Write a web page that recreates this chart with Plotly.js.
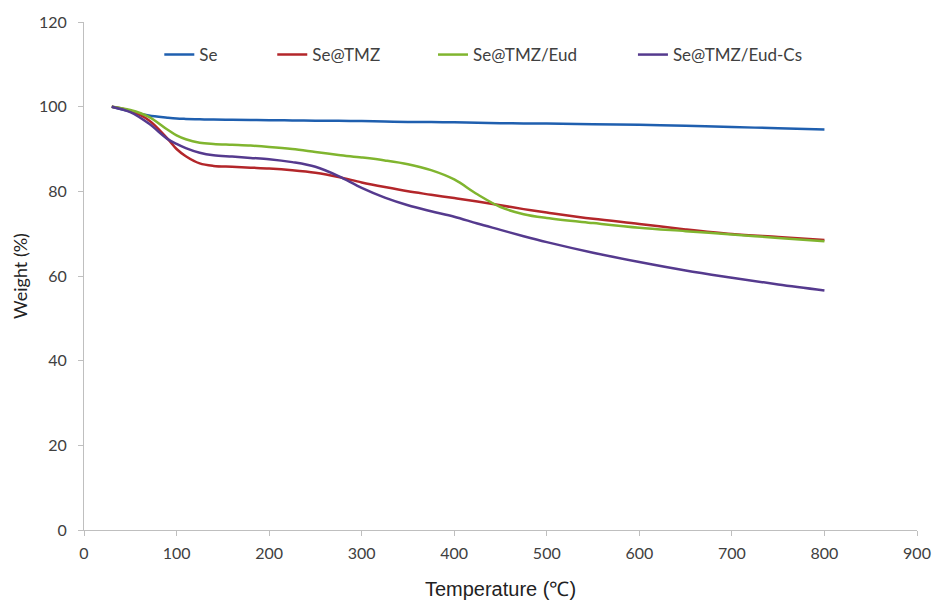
<!DOCTYPE html>
<html>
<head>
<meta charset="utf-8">
<script src="https://cdn.plot.ly/plotly-3.0.1.min.js"></script>
<style>html,body{margin:0;padding:0;background:#fff;}#chart{width:934px;height:605px;}</style>
</head>
<body>
<div id="chart"></div>
<script>
var temperature = [30,50,70,90,100,110,125,140,160,180,200,225,250,275,300,325,350,375,400,425,450,475,500,550,600,650,700,750,800];
var seriesNames = ["Se","Se@TMZ","Se@TMZ/Eud","Se@TMZ/Eud-Cs"];
var weightSe = [100,98.9,97.9,97.4,97.2,97.1,97.0,96.95,96.9,96.85,96.8,96.75,96.7,96.65,96.6,96.5,96.4,96.35,96.3,96.2,96.1,96.05,96.0,95.85,95.7,95.5,95.2,94.9,94.6];
var weightSeTMZ = [100,99.0,96.8,92.5,90.0,88.3,86.6,86.0,85.8,85.6,85.4,85.0,84.4,83.4,82.1,81.0,80.0,79.2,78.4,77.6,76.7,75.8,75.0,73.5,72.3,71.0,69.9,69.2,68.5];
var weightSeTMZEud = [100,99.2,97.6,94.6,93.2,92.3,91.5,91.2,91.0,90.8,90.5,90.0,89.3,88.6,88.0,87.3,86.4,85.0,82.8,79.3,76.3,74.6,73.7,72.5,71.4,70.6,69.8,69.0,68.2];
var weightSeTMZEudCs = [100,98.7,96.0,92.4,91.2,90.2,89.1,88.5,88.2,87.9,87.6,86.9,85.8,83.6,80.8,78.5,76.7,75.3,74.0,72.4,70.9,69.4,68.0,65.5,63.3,61.3,59.6,58.0,56.6];
var xTicks = [0,100,200,300,400,500,600,700,800,900];
var yTicks = [0,20,40,60,80,100,120];

var colors = ["#1F5FAF","#B3262A","#80B52F","#553A8E"];
var legendIds = ["legend","legend2","legend3","legend4"];
var legendX = [0.0904, 0.226, 0.419, 0.659];
var allY = [weightSe, weightSeTMZ, weightSeTMZEud, weightSeTMZEudCs];
var traces = allY.map(function(y, i){
  return {x: temperature, y: y, name: seriesNames[i], type: "scatter", mode: "lines",
    legend: legendIds[i],
    line: {color: colors[i], width: 2.5, shape: "spline", smoothing: 1}};
});

var axisFont = {family: "Lato, 'Open Sans', sans-serif", size: 16, color: "#404040"};
var layout = {
  width: 934, height: 605,
  margin: {l: 84, r: 17, t: 22, b: 75},
  paper_bgcolor: "#fff", plot_bgcolor: "#fff",
  showlegend: true,
  xaxis: {range: [0, 900], tickmode: "array", tickvals: xTicks, ticktext: xTicks.map(String),
    showgrid: false, zeroline: false, showline: true, linecolor: "#BFBFBF", linewidth: 1,
    ticks: "outside", ticklen: 5, tickcolor: "#BFBFBF", tickfont: axisFont, ticklabelstandoff: 4,
    title: {text: "Temperature (℃)", font: {family: "'Liberation Sans', Arial, sans-serif", size: 20, color: "#222"}, standoff: 20},
    fixedrange: true},
  yaxis: {range: [0, 120], tickmode: "array", tickvals: yTicks, ticktext: yTicks.map(String),
    showgrid: false, zeroline: false, showline: true, linecolor: "#BFBFBF", linewidth: 1,
    ticks: "outside", ticklen: 5, tickcolor: "#BFBFBF", tickfont: axisFont, ticklabelstandoff: 8,
    title: {text: "Weight (%)", font: {family: "Lato, 'Open Sans', sans-serif", size: 18, color: "#222"}, standoff: 6},
    fixedrange: true}
};
legendIds.forEach(function(id, i){
  layout[id] = {orientation: "h", x: legendX[i], xanchor: "left", y: 0.935, yanchor: "middle",
    font: {family: "Lato, 'Open Sans', sans-serif", size: 17, color: "#404040"},
    bgcolor: "rgba(0,0,0,0)", itemwidth: 30};
});
Plotly.newPlot("chart", traces, layout, {displayModeBar: false, staticPlot: true});
</script>
</body>
</html>
